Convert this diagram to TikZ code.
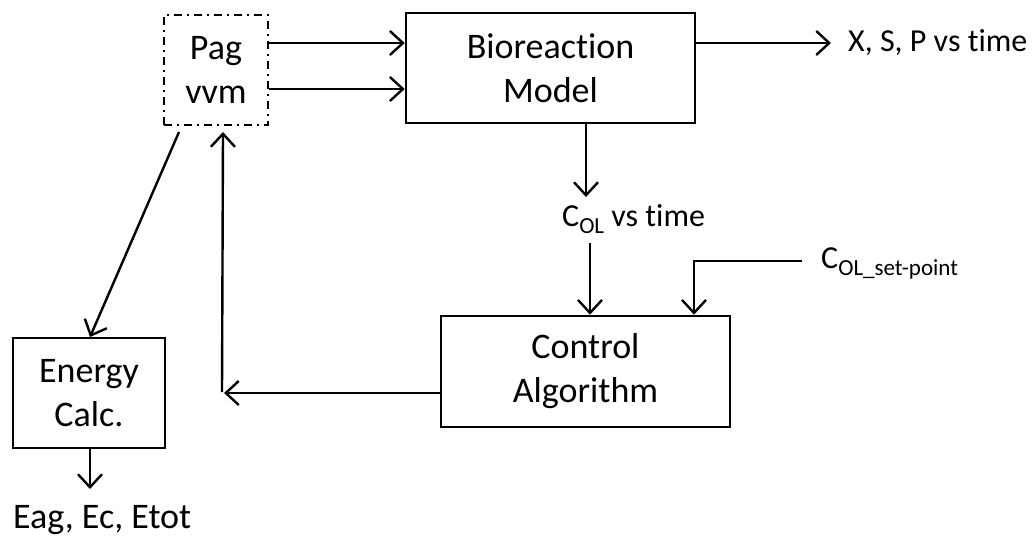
\documentclass[tikz,border=0pt]{standalone}
\usepackage{fontspec}
\setmainfont{Carlito}[Ligatures=NoCommon]
\usetikzlibrary{arrows.meta}
\newcommand{\sub}[1]{\raisebox{-0.22em}{\fontsize{23}{23}\selectfont #1}}
\begin{document}
\begin{tikzpicture}[x=1pt,y=-1pt,
  conn/.style={line width=2.4pt},
  arr/.style={conn,-{Straight Barb[length=13pt,width=24pt,line width=2.4pt]}},
  blk/.style={draw,line width=2.6pt,align=center,inner sep=0pt,
              font=\fontsize{36}{44}\selectfont},
  dblk/.style={blk,line width=2.2pt,dash pattern=on 8pt off 5pt on 2pt off 5pt},
  lbl/.style={inner sep=0pt,font=\fontsize{32}{38}\selectfont},
  biglbl/.style={inner sep=0pt,font=\fontsize{36}{44}\selectfont}]
\fill[white] (0,0) rectangle (1035,539);
\useasboundingbox (0,0) rectangle (1035,539);

\node[dblk,minimum width=104pt,minimum height=110pt] (pag) at (216,70) {Pag\\vvm};
\node[blk,minimum width=289pt,minimum height=110pt] (bio) at (550.5,68) {Bioreaction\\Model};
\node[blk,minimum width=289pt,minimum height=111pt] (ctrl) at (585.5,371.5) {Control\\Algorithm};
\node[blk,minimum width=152pt,minimum height=110pt] (energy) at (89,393) {Energy\\Calc.};

\node[lbl,anchor=west] (xsp) at (848,43) {X, S, P vs time};
\node[lbl,anchor=west] (col) at (562,219) {C\sub{OL} vs time};
\node[lbl,anchor=west] (csp) at (821,263) {C\sub{OL\_set-point}};
\node[biglbl,anchor=base west] (eout) at (13,528) {Eag, Ec, Etot};

% Pag -> Bioreaction
\draw[arr] (pag.east |- 0,43) -- (bio.west |- 0,43);
\draw[arr] (pag.east |- 0,89) -- (bio.west |- 0,89);
% Bioreaction -> outputs
\coordinate (xend) at (831,43);
\draw[arr] (bio.east |- xend) -- (xend);
\coordinate (colin) at (586,197);
\draw[arr] (bio.south -| colin) -- (colin);
\coordinate (colout) at (590,243);
\draw[arr] (colout) -- (ctrl.north -| colout);
% set-point
\coordinate (spstart) at (802,261);
\coordinate (spcorner) at (694,261);
\draw[arr] (spstart) -- (spcorner) -- (ctrl.north -| spcorner);
% control feedback
\coordinate (fbh) at (224,393);
\draw[arr] (ctrl.west |- fbh) -- (fbh);
\coordinate (fbv) at (222,392);
\coordinate (fbtip) at (223,132);
\draw[arr] (fbv) -- (fbtip);
% Pag -> Energy
\coordinate (diag) at (179,132);
\draw[arr] (diag) -- (90,337);
% Energy -> outputs
\coordinate (eend) at (90,489);
\draw[arr] (energy.south -| eend) -- (eend);
\end{tikzpicture}
\end{document}
